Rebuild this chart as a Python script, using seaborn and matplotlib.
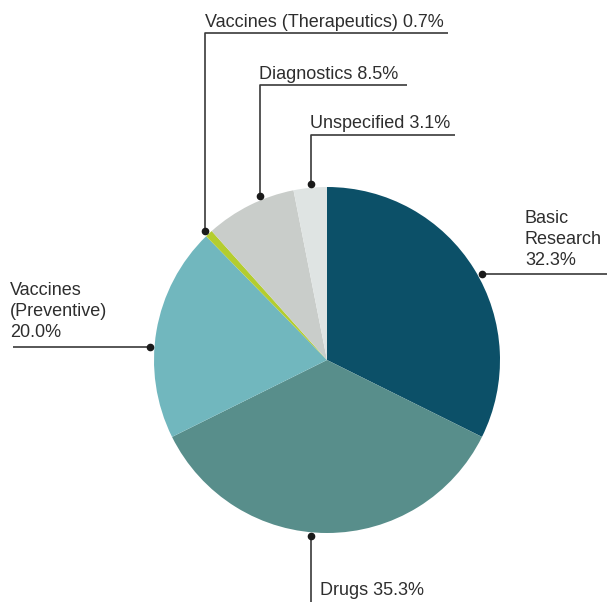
import matplotlib
matplotlib.use('Agg')

import numpy as np
import matplotlib.pyplot as plt
import seaborn as sns

# data, clockwise from 12 o'clock
categories = ['Basic Research', 'Drugs', 'Vaccines (Preventive)',
              'Vaccines (Therapeutics)', 'Diagnostics', 'Unspecified']
shares = [32.3, 35.3, 20.0, 0.7, 8.5, 3.1]
label_names = ['Basic\nResearch', 'Drugs', 'Vaccines\n(Preventive)',
               'Vaccines (Therapeutics)', 'Diagnostics', 'Unspecified']
label_sep = ['\n', ' ', '\n', ' ', ' ', ' ']
colors = ['#0c5068', '#588e8b', '#71b7be', '#b4cd2f', '#c9cdca', '#dfe4e3']

W, H = 607, 602
cx, cy, r = 327, H - 360, 173

# layout of the leaders (pixel coords, y down) -- not data
anchor_deg = [29.0, 264.9, 175.8, 133.4, 112.3, 95.2]
leader = [
    [(607, None)],            # horizontal to right edge
    [(None, 602)],            # straight down
    [(13, None)],             # horizontal to left edge
    [(None, 33), (448, 33)],
    [(None, 85), (407, 85)],
    [(None, 135), (455, 135)],
]
text_pos = [(525, 269, 'bottom'), (320, 595, 'baseline'), (10, 341, 'bottom'),
            (205, 27, 'baseline'), (259, 79, 'baseline'), (310, 128, 'baseline')]

sns.set_theme(style='white')
plt.rcParams['font.family'] = ['Liberation Sans', 'DejaVu Sans']

fig = plt.figure(figsize=(W / 100, H / 100), dpi=100)
ax = fig.add_axes([0, 0, 1, 1])

ax.pie(shares, colors=colors, startangle=90, counterclock=False,
       center=(cx, cy), radius=r, wedgeprops=dict(linewidth=0))

line_col = '#3a3a3a'
for i in range(len(shares)):
    a = np.deg2rad(anchor_deg[i])
    x0 = cx + (r + 4) * np.cos(a)
    y0 = cy + (r + 4) * np.sin(a)
    xs, ys = [x0], [y0]
    for px, py in leader[i]:
        xs.append(xs[-1] if px is None else px)
        ys.append(ys[-1] if py is None else H - py)
    ax.plot(xs, ys, color=line_col, lw=1.2, solid_capstyle='butt', zorder=3)
    ax.plot([x0], [y0], 'o', color='#1a1a1a', ms=4.5, zorder=4)

    tx, ty, va = text_pos[i]
    txt = f"{label_names[i]}{label_sep[i]}{shares[i]:.1f}%"
    ax.text(tx, H - ty, txt, ha='left', va=va, fontsize=13,
            color='#2e2e2e', linespacing=1.3)

ax.set_xlim(0, W)
ax.set_ylim(0, H)
ax.set_aspect('equal')
ax.axis('off')

fig.savefig('out.png', dpi=100, facecolor='white')
